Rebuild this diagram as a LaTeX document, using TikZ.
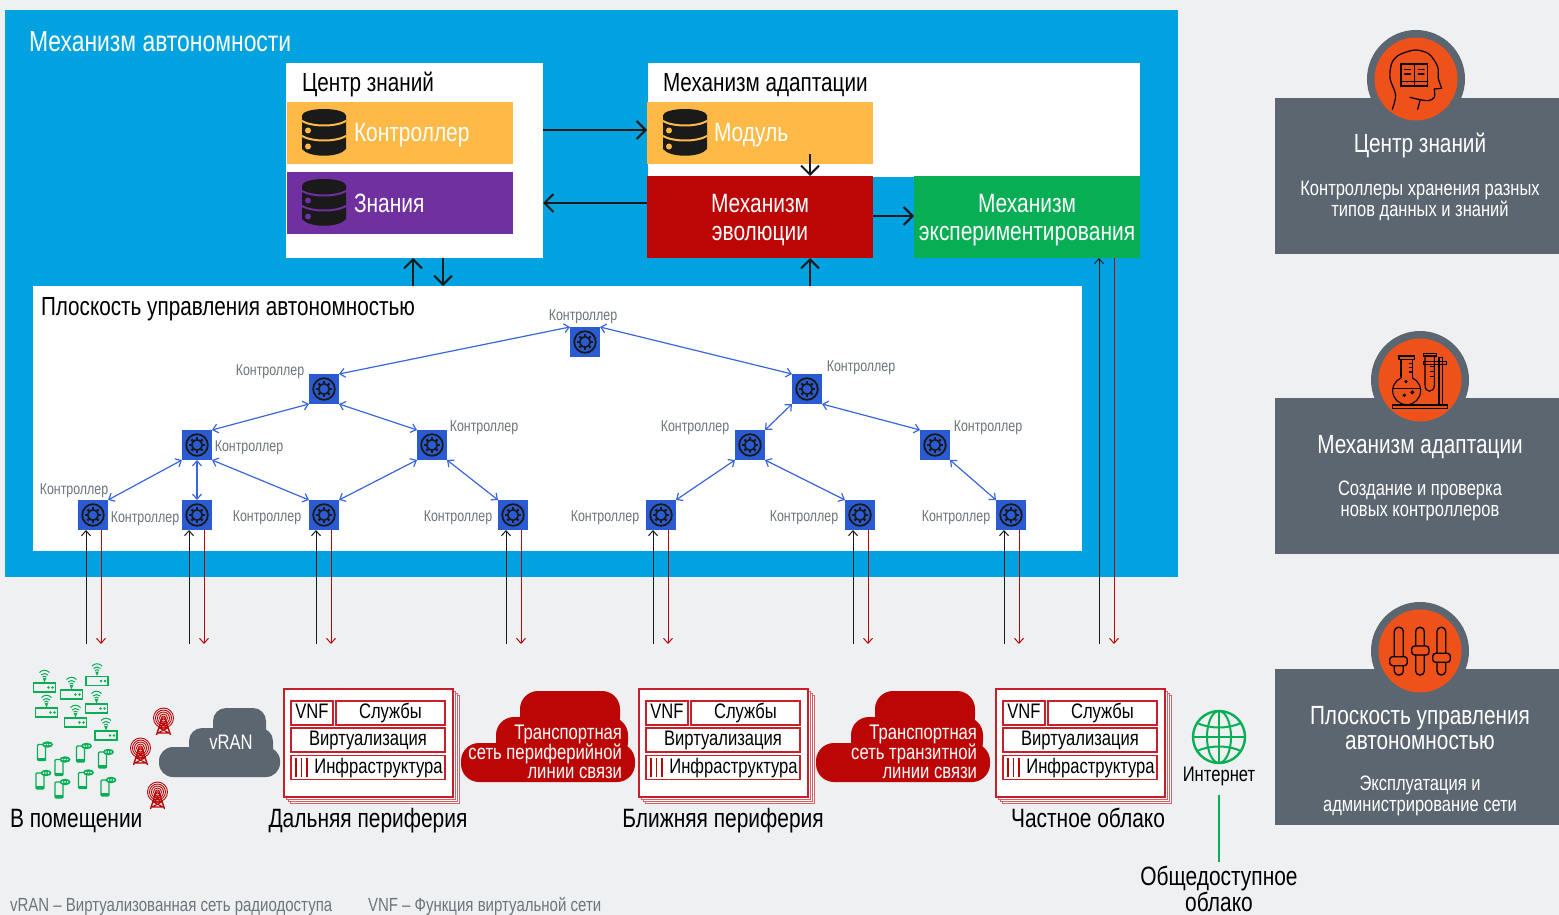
\documentclass[tikz,border=0pt]{standalone}
\usepackage{fontspec}
\setmainfont[FakeStretch=0.79]{Liberation Sans}
\usetikzlibrary{arrows.meta}
\definecolor{bgc}{HTML}{EEF0F2}
\definecolor{bluec}{HTML}{00A3E0}
\definecolor{orangec}{HTML}{FFB946}
\definecolor{purplec}{HTML}{70309F}
\definecolor{redc}{HTML}{BC0505}
\definecolor{greenc}{HTML}{07AE54}
\definecolor{grayc}{HTML}{5C6670}
\definecolor{burnc}{HTML}{EE5119}
\definecolor{ctrlc}{HTML}{2B5BD2}
\definecolor{linkc}{HTML}{3A66DC}
\definecolor{labc}{HTML}{6D757C}
\definecolor{inkc}{HTML}{1A1A1A}
\definecolor{stackc}{HTML}{C8202A}
\definecolor{stackb}{HTML}{D9606A}
\newcommand\fpx[2]{\fontsize{#1}{#2}\selectfont\lineskiplimit=-50pt\relax}
\tikzset{
  x=1pt,y=-1pt,
  txt/.style={inner sep=0pt,outer sep=0pt},
  ctrl/.style={fill=ctrlc,minimum size=30pt,inner sep=0pt,outer sep=0pt,rectangle},
  ctrllab/.style={txt,anchor=mid,text=labc,yshift=-3pt,font=\fpx{15.7}{17}},
  plink/.style={linkc,line width=1.2pt,{Straight Barb[length=5pt,width=9pt]}-{Straight Barb[length=5pt,width=9pt]}},
  upar/.style={inkc,line width=1pt,-{Straight Barb[length=5pt,width=9pt]}},
  dnar/.style={redc,line width=1pt,-{Straight Barb[length=5pt,width=9pt]}},
  bigar/.style={inkc,line width=2pt,-{Straight Barb[length=9pt,width=18pt]}},
  block/.style={rectangle,inner sep=0pt,outer sep=0pt,anchor=north west},
  blocktxt/.style={txt,text=white,align=center,font=\fpx{26.5}{27.5}},
  paneltxt/.style={txt,anchor=mid west,text=white,yshift=-7pt,font=\fpx{26.5}{28}},
  panelhead/.style={txt,text=white,align=center,font=\fpx{26.3}{24.5}},
  panelsub/.style={txt,text=white,align=center,font=\fpx{20.9}{21.5}},
  innerbox/.style={rectangle,draw=stackc,line width=1.4pt,fill=white,inner sep=0pt,outer sep=0pt,anchor=north west,text height=15pt,text depth=4pt,font=\fpx{21}{23},text=black},
  bottomlab/.style={txt,anchor=mid,text=black,yshift=-7pt,font=\fpx{26.5}{28}},
  cloudlab/.style={txt,text=white,align=right,anchor=north east,font=\fpx{21.1}{19.5}},
  foot/.style={txt,anchor=mid west,text=labc,yshift=-5pt,font=\fpx{19}{21}},
  toplab/.style={txt,anchor=mid west,text=black,yshift=-7pt,font=\fpx{26.2}{28}}
}
\newcommand\gearmark[1]{%
  \draw[inkc,line width=1.8pt] (#1) circle[radius=10.8pt];
  \draw[inkc,line width=1.7pt] (#1) circle[radius=5.3pt];
  \foreach \a in {0,45,...,315}{\draw[inkc,line width=2.4pt] (#1)++(\a:5pt) -- ++(\a:2.8pt);}
}
\newcommand\dbmark[3]{%
  \begin{scope}[shift={(#1,#2)}]
    \fill[inkc] (-22,6.5) -- (-22,40) .. controls (-15,49) and (15,49) .. (22,40) -- (22,6.5) -- cycle;
    \fill[inkc] (0,6.5) ellipse[x radius=22pt,y radius=6.5pt];
    \draw[#3,line width=2pt] (-22,12) .. controls (-12,18) and (12,18) .. (22,12);
    \draw[#3,line width=2pt] (-22,27) .. controls (-12,33) and (12,33) .. (22,27);
    \fill[#3] (-16,21.5) circle[radius=3pt];
    \fill[#3] (-16,37.5) circle[radius=3pt];
  \end{scope}}
\newcommand\towermark[2]{%
  \begin{scope}[shift={(#1,#2)}]
    \foreach \r in {2,4,6,8,10}{\draw[redc,line width=.9pt] (0,0) circle[radius=\r pt];}
    \draw[redc,line width=1.4pt,line join=round] (-7,17) -- (-1.5,0) -- (1.5,0) -- (7,17);
    \draw[redc,line width=1.1pt] (-2.7,5) -- (2.7,5) (-4.2,10) -- (4.2,10) (-5.7,15) -- (5.7,15) (-4.2,10) -- (2.7,5) (4.2,10) -- (-2.7,5) (-5.7,15) -- (4.2,10) (5.7,15) -- (-4.2,10);
  \end{scope}}
\newcommand\wifidev[2]{%
  \begin{scope}[shift={(#1,#2)}]
    \draw[greenc,line width=1.2pt] (-11,-4.5) rectangle (11,4.5);
    \fill[greenc] (4,0) circle[radius=1.3pt] (8,0) circle[radius=1.3pt];
    \draw[greenc,line width=1pt] (-5,-15) .. controls (-2,-18) and (2,-18) .. (5,-15);
    \draw[greenc,line width=1pt] (-3.5,-12.5) .. controls (-1.5,-14.5) and (1.5,-14.5) .. (3.5,-12.5);
    \draw[greenc,line width=1pt] (-2,-10.5) .. controls (-1,-11.5) and (1,-11.5) .. (2,-10.5);
    \fill[greenc] (-1.8,-9.5) -- (1.8,-9.5) -- (0,-5) -- cycle;
  \end{scope}}
\newcommand\phonemark[2]{%
  \begin{scope}[shift={(#1,#2)}]
    \draw[greenc,line width=1.2pt,rounded corners=1pt] (-4,-7) rectangle (4,9);
    \fill[greenc] (-4,6) rectangle (4,9);
    \fill[greenc] (6,-7) ellipse[x radius=5.5pt,y radius=3.2pt];
    \fill[white] (3.5,-7) circle[radius=.8pt] (6,-7) circle[radius=.8pt] (8.5,-7) circle[radius=.8pt];
  \end{scope}}
\newcommand\stackbox[2]{%
  \begin{scope}[shift={(#1,0)}]
    \foreach \d in {6,4,2}{\draw[stackb,line width=.9pt,fill=white] (284+\d,689+\d) rectangle (453+\d,797+\d);}
    \draw[stackc,line width=1.4pt,fill=white] (284,689) rectangle (453,797);
    \node[innerbox,minimum width=42pt,minimum height=24pt] (#2v) at (291,701) {VNF};
    \node[innerbox,minimum width=109pt,minimum height=24pt] (#2s) at (336,701) {Службы};
    \node[innerbox,minimum width=154pt,minimum height=24pt] (#2w) at (291,728) {Виртуализация};
    \node[innerbox,minimum width=154pt,minimum height=24pt] (#2i) at (291,755.5) {\hspace*{21pt}Инфраструктура};
    \draw[redc,line width=1.5pt] (296,758) -- (296,777) (301.5,758) -- (301.5,777) (307,758) -- (307,777);
  \end{scope}}
\begin{document}
\begin{tikzpicture}
\useasboundingbox (0,0) rectangle (1559,915);
\fill[bgc] (0,0) rectangle (1559,915);
% main blue field
\fill[bluec] (5,10) rectangle (1178,577);
\node[txt,anchor=mid west,text=white,yshift=-7pt,font=\fpx{29}{30}] (title) at (29,42) {Механизм автономности};

% knowledge centre
\fill[white] (286,63) rectangle (543,258);
\node[toplab] (kclab) at (302,82) {Центр знаний};
\node[block,fill=orangec,minimum width=226pt,minimum height=62pt] (kctrl) at (287,102) {};
\node[block,fill=purplec,minimum width=226pt,minimum height=62pt] (kdata) at (287,172) {};
\dbmark{324}{109}{orangec}
\dbmark{324}{179}{purplec}
\node[paneltxt] (kctrlt) at (354,132) {Контроллер};
\node[paneltxt] (kdatat) at (354,203) {Знания};
\coordinate (kcbox) at (543,130);
\coordinate (kcboxb) at (543,203);

% adaptation
\fill[white] (648,63) rectangle (1140,177);
\node[toplab] (adlab) at (663,82) {Механизм адаптации};
\node[block,fill=orangec,minimum width=226pt,minimum height=62pt] (modl) at (647,102) {};
\dbmark{685}{109}{orangec}
\node[paneltxt] (modlt) at (714,132) {Модуль};
\node[block,fill=redc,minimum width=226pt,minimum height=82pt] (evo) at (647,176) {};
\node[block,fill=greenc,minimum width=226pt,minimum height=82pt] (expt) at (914,176) {};
\node[blocktxt] (evot) at (760,220) {Механизм\\эволюции};
\node[blocktxt] (exptt) at (1027,220) {Механизм\\экспериментирования};

% control plane
\node[block,fill=white,minimum width=1049pt,minimum height=265pt] (plane) at (33,286) {};
\node[toplab] (planelab) at (41,306) {Плоскость управления автономностью};

% big arrows
\coordinate (a1) at (modl.west |- kcbox);
\draw[bigar] (kcbox) -- (a1);
\coordinate (a2) at (evo.west |- kcboxb);
\draw[bigar] (a2) -- (kcboxb);
\coordinate (a3s) at (810,154);
\draw[bigar] (a3s) -- (a3s |- evo.north);
\coordinate (a4) at (evo.east |- 0,216);
\draw[bigar] (a4) -- (expt.west |- a4);
\coordinate (a5) at (810,286);
\draw[bigar] (a5) -- (a5 |- evo.south);
\coordinate (a6) at (413,286);
\draw[bigar] (a6) -- (413,258);
\coordinate (a7) at (443,258);
\draw[bigar] (a7) -- (443,286);

% controllers
\node[ctrl] (c0) at (585,342) {};
\node[ctrl] (l1a) at (324,389) {};
\node[ctrl] (l1b) at (807,389) {};
\node[ctrl] (l2a) at (197,445) {};
\node[ctrl] (l2b) at (432,445) {};
\node[ctrl] (l2c) at (750,445) {};
\node[ctrl] (l2d) at (935,445) {};
\node[ctrl] (l3a) at (93,515) {};
\node[ctrl] (l3b) at (197,515) {};
\node[ctrl] (l3c) at (324,515) {};
\node[ctrl] (l3d) at (513,515) {};
\node[ctrl] (l3e) at (661,515) {};
\node[ctrl] (l3f) at (860,515) {};
\node[ctrl] (l3g) at (1011,515) {};
\foreach \n in {c0,l1a,l1b,l2a,l2b,l2c,l2d,l3a,l3b,l3c,l3d,l3e,l3f,l3g}{\gearmark{\n}}
\node[ctrllab] (t0) at (583,315) {Контроллер};
\node[ctrllab] (t1) at (270,370) {Контроллер};
\node[ctrllab] (t2) at (861,366) {Контроллер};
\node[ctrllab] (t3) at (249,446) {Контроллер};
\node[ctrllab] (t4) at (484,426) {Контроллер};
\node[ctrllab] (t5) at (695,426) {Контроллер};
\node[ctrllab] (t6) at (988,426) {Контроллер};
\node[ctrllab] (t7) at (74,489) {Контроллер};
\node[ctrllab] (t8) at (145,517) {Контроллер};
\node[ctrllab] (t9) at (267,516) {Контроллер};
\node[ctrllab] (t10) at (458,516) {Контроллер};
\node[ctrllab] (t11) at (605,516) {Контроллер};
\node[ctrllab] (t12) at (804,516) {Контроллер};
\node[ctrllab] (t13) at (956,516) {Контроллер};

\draw[plink] (c0.north west) -- (l1a.north east);
\draw[plink] (c0.north east) -- (l1b.north west);
\draw[plink] (l1a.south west) -- (l2a.north east);
\draw[plink] (l1a.south east) -- (l2b.north west);
\draw[plink] (l1b.south west) -- (l2c.north east);
\draw[plink] (l1b.south east) -- (l2d.north west);
\draw[plink] (l2a.south west) -- (l3a.north east);
\draw[plink] (l2a.south) -- (l3b.north);
\draw[plink] (l2a.south east) -- (l3c.north west);
\draw[plink] (l2b.south west) -- (l3c.north east);
\draw[plink] (l2b.south east) -- (l3d.north west);
\draw[plink] (l2c.south west) -- (l3e.north east);
\draw[plink] (l2c.south east) -- (l3f.north west);
\draw[plink] (l2d.south east) -- (l3g.north west);

% vertical arrow pairs
\foreach \n/\xb/\xr in {l3a/86/101,l3b/189/204,l3c/316/331,l3d/506/521,l3e/653/668,l3f/853/868,l3g/1004/1019}{
  \coordinate (bf) at (\xb,644);
  \coordinate (rf) at (\xr,644);
  \draw[upar] (bf) -- (bf |- \n.south);
  \draw[dnar] (rf |- \n.south) -- (rf);
}
\coordinate (bx) at (1099,644);
\coordinate (rx) at (1114,644);
\draw[upar] (bx) -- (bx |- expt.south);
\draw[dnar] (rx |- expt.south) -- (rx);

% right panels
\fill[grayc] (1275,98) rectangle (1559,254);
\fill[grayc] (1275,398) rectangle (1559,554);
\fill[grayc] (1275,669) rectangle (1559,825);
\fill[grayc] (1416,79) circle[radius=49pt];
\fill[burnc] (1416,79) circle[radius=41.5pt];
\fill[grayc] (1420,380) circle[radius=49pt];
\fill[burnc] (1420,380) circle[radius=41.5pt];
\fill[grayc] (1420,651) circle[radius=49pt];
\fill[burnc] (1420,651) circle[radius=41.5pt];
% head icon
\begin{scope}[shift={(1275,20)},x=.3333pt,y=-.3333pt,line width=1.2pt,black,line cap=round]
  \draw plot[smooth] coordinates {(352,268) (362,225) (345,175) (350,130) (372,105) (420,90) (462,102) (488,140) (490,175) (500,205)};
  \draw (500,205) -- (478,207);
  \draw plot[smooth] coordinates {(478,207) (478,232) (460,242) (430,238) (405,232)};
  \draw (435,242) -- (428,268);
  \draw[line width=1.4pt] (378,132) rectangle (458,198) (418,132) -- (418,198) (378,184) -- (458,184);
  \draw (389,148) -- (406,148) (389,162) -- (406,162) (430,148) -- (447,148) (430,162) -- (447,162);
\end{scope}
% flask icon
\begin{scope}[shift={(1275,320)},x=.3333pt,y=-.3333pt,line width=1.1pt,black]
  \draw (352,255) rectangle (518,266);
  \draw (492,112) rectangle (502,255);
  \draw (445,125) rectangle (515,133);
  \draw (445,100) rectangle (485,108);
  \draw (450,108) -- (450,195) .. controls (450,220) and (478,220) .. (478,195) -- (478,108);
  \draw (372,108) rectangle (418,118);
  \draw (395,212) circle[radius=42];
  \fill[burnc] (380,160) rectangle (410,176);
  \draw (378,118) -- (378,172) (412,118) -- (412,172);
  \draw (354,205) -- (436,205);
  \draw (388,226) circle[radius=3] (412,217) circle[radius=4] (393,185) circle[radius=3];
  \draw (402,130) -- (412,130) (402,143) -- (412,143) (402,156) -- (412,156);
  \draw (466,140) -- (478,140) (466,155) -- (478,155) (466,170) -- (478,170);
\end{scope}
% sliders icon
\begin{scope}[shift={(1275,595)},x=.3333pt,y=-.3333pt,line width=1.3pt,black]
  \draw[rounded corners=4pt] (358,97) rectangle (385,240);
  \draw[rounded corners=4pt] (422,97) rectangle (448,240);
  \draw[rounded corners=4pt] (486,97) rectangle (512,240);
  \draw[rounded corners=3pt,fill=burnc] (344,185) rectangle (397,212);
  \draw[rounded corners=3pt,fill=burnc] (410,153) rectangle (462,180);
  \draw[rounded corners=3pt,fill=burnc] (473,175) rectangle (526,202);
\end{scope}
\node[panelhead] (p1h) at (1420,145) {Центр знаний};
\node[panelsub] (p1s) at (1420,201) {Контроллеры хранения разных\\типов данных и знаний};
\node[panelhead] (p2h) at (1420,447) {Механизм адаптации};
\node[panelsub] (p2s) at (1420,501) {Создание и проверка\\новых контроллеров};
\node[panelhead] (p3h) at (1420,728) {Плоскость управления\\автономностью};
\node[panelsub] (p3s) at (1420,796) {Эксплуатация и\\администрирование сети};

% on premises
\wifidev{44.5}{687.5}\wifidev{71.5}{694.5}\wifidev{97}{681}\wifidev{46.5}{712.5}\wifidev{96.5}{708.5}\wifidev{75.5}{722.5}\wifidev{106}{735.5}
\phonemark{41.5}{751.5}\phonemark{59}{766.5}\phonemark{80.5}{753}\phonemark{102.5}{759}\phonemark{40}{780}\phonemark{59}{789}\phonemark{82.5}{779.5}\phonemark{105}{787}
\towermark{163.5}{718}
\towermark{140.5}{748}
\towermark{157.5}{792}
% clouds
\begin{scope}
  \fill[grayc,rounded corners=13pt] (213,708) rectangle (266,745);
  \fill[grayc,rounded corners=13pt] (189,728) rectangle (273,765);
  \fill[grayc,rounded corners=14pt] (159,747) rectangle (280,777);
\end{scope}
\node[txt,text=white,anchor=mid,yshift=-6pt,font=\fpx{21}{22}] (vran) at (231,741) {vRAN};
\begin{scope}
  \fill[redc,rounded corners=18pt] (520,691) rectangle (620,735);
  \fill[redc,rounded corners=18pt] (496,717) rectangle (628,760);
  \fill[redc,rounded corners=18pt] (461,743) rectangle (635,782);
\end{scope}
\node[cloudlab] (cl1) at (622,725) {Транспортная\\сеть периферийной\\линии связи};
\begin{scope}[shift={(355,0)}]
  \fill[redc,rounded corners=18pt] (520,691) rectangle (620,735);
  \fill[redc,rounded corners=18pt] (496,717) rectangle (628,760);
  \fill[redc,rounded corners=18pt] (461,743) rectangle (635,782);
  \node[cloudlab] (cl2) at (622,725) {Транспортная\\сеть транзитной\\линии связи};
\end{scope}
% stacks
\stackbox{0}{sa}
\stackbox{355}{sb}
\stackbox{712}{sc}
% globe
\node[circle,draw=greenc,line width=2.4pt,minimum size=52pt,inner sep=0pt,outer sep=0pt] (globe) at (1219,737) {};
\draw[greenc,line width=2pt] (globe.north) -- (globe.south) (globe.west) -- (globe.east);
\draw[greenc,line width=2pt] (globe.center) ellipse[x radius=12pt,y radius=26pt];
\draw[greenc,line width=2pt] (1197,723) .. controls (1210,729) and (1228,729) .. (1241,723);
\draw[greenc,line width=2pt] (1197,751) .. controls (1210,745) and (1228,745) .. (1241,751);
\node[txt,anchor=mid,text=black,yshift=-4pt,font=\fpx{21}{22}] (inet) at (1219,775) {Интернет};
\node[txt,anchor=north,text=black,align=center,outer sep=4pt,font=\fpx{26.5}{26}] (pub) at (1219,862) {Общедоступное\\облако};
\draw[greenc,line width=2pt,shorten <=9pt] (inet.south) -- (pub.north);
% bottom labels
\node[bottomlab,anchor=mid west] (lb1) at (10,818) {В помещении};
\node[bottomlab] (lb2) at (368,818) {Дальняя периферия};
\node[bottomlab] (lb3) at (723,818) {Ближняя периферия};
\node[bottomlab] (lb4) at (1088,818) {Частное облако};
\node[foot] (f1) at (10,903.5) {vRAN – Виртуализованная сеть радиодоступа};
\node[foot] (f2) at (368,903.5) {VNF – Функция виртуальной сети};
\end{tikzpicture}
\end{document}
